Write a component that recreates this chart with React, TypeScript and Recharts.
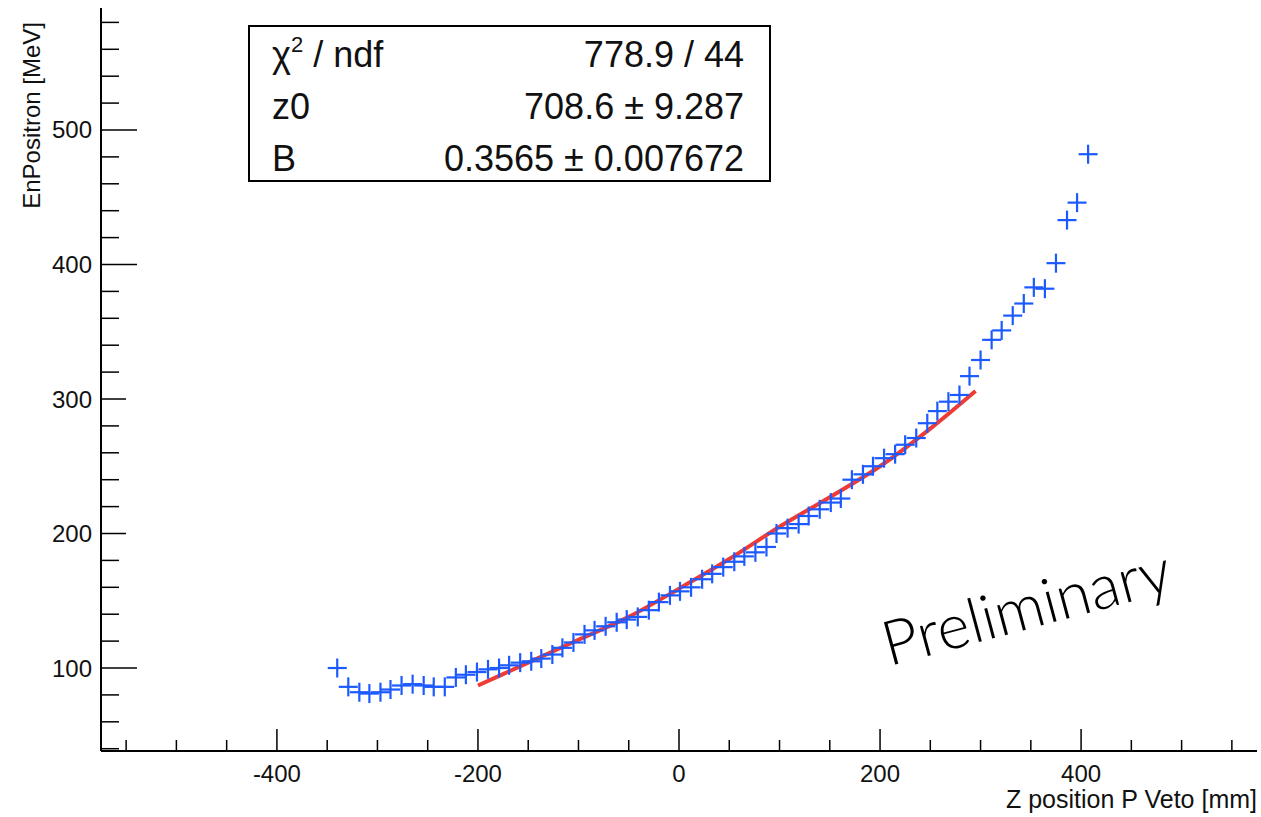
import { ComposedChart, Scatter, Line, XAxis, YAxis } from "recharts";

// measured points (z in mm, energy in MeV)
const zPos = [
  -340, -329, -318, -308, -297, -287, -276, -265, -254, -244, -233, -222, -212, -201, -190, -179,
  -169, -158, -147, -137, -126, -116, -105, -94, -84, -73, -62, -52, -41, -30, -20, -9,
  1, 12, 23, 33, 44, 55, 65, 76, 87, 97, 108, 119, 129, 140, 151, 161,
  172, 183, 193, 204, 215, 225, 236, 247, 257, 268, 279, 289, 300, 311, 321, 332,
  343, 353, 364, 375, 386, 396, 407,
];
const energy = [
  100, 86, 82, 81, 82, 84, 87, 88, 87, 86, 86, 93, 95, 97, 99, 100,
  102, 104, 105, 107, 110, 115, 119, 125, 128, 131, 134, 136, 138, 143, 149, 154,
  157, 160, 166, 170, 175, 179, 183, 186, 190, 200, 204, 207, 213, 218, 223, 226,
  240, 244, 250, 256, 259, 266, 271, 282, 291, 298, 303, 317, 329, 344, 351, 362,
  371, 383, 382, 401, 433, 446, 482,
];

// fit curve
const fitZ = [-200, -150, -100, -50, 0, 50, 100, 150, 200, 250, 295];
const fitE = [87, 104, 121, 138, 159, 181, 205, 227, 250, 278, 306];

const xTicks = [-550, -500, -450, -400, -350, -300, -250, -200, -150, -100, -50, 0, 50, 100, 150, 200, 250, 300, 350, 400, 450, 500, 550];
const xMajor = [-400, -200, 0, 200, 400];
const yTicks = [40, 60, 80, 100, 120, 140, 160, 180, 200, 220, 240, 260, 280, 300, 320, 340, 360, 380, 400, 420, 440, 460, 480, 500, 520, 540, 560, 580];
const yMajor = [100, 200, 300, 400, 500];
const yShortMajor = [200, 300];

const statRows = [
  { name: "z0", value: "708.6 \u00b1 9.287" },
  { name: "B", value: "0.3565 \u00b1 0.007672" },
];

const FONT = "'Liberation Sans', Arial, Helvetica, sans-serif";
const BLUE = "#1c5aff";
const RED = "#ee3b36";

const points = zPos.map((z, i) => ({ z, e: energy[i] }));
const fit = fitZ.map((z, i) => ({ z, e: fitE[i] }));

function XTick(props: any) {
  const { x, y, payload } = props;
  const major = xMajor.includes(payload.value);
  return (
    <g>
      <line x1={x} x2={x} y1={y} y2={y - (major ? 22 : 11)} stroke="#000" strokeWidth={1.5} />
      {major && (
        <text x={x} y={y + 31} textAnchor="middle" fontSize={24} fontFamily={FONT} fill="#111">
          {String(payload.value)}
        </text>
      )}
    </g>
  );
}

function YTick(props: any) {
  const { x, y, payload } = props;
  const major = yMajor.includes(payload.value);
  const len = major ? (yShortMajor.includes(payload.value) ? 25 : 36) : 18;
  return (
    <g>
      <line x1={x} x2={x + len} y1={y} y2={y} stroke="#000" strokeWidth={1.5} />
      {major && (
        <text x={x - 9} y={y + 8.5} textAnchor="end" fontSize={24} fontFamily={FONT} fill="#111">
          {String(payload.value)}
        </text>
      )}
    </g>
  );
}

function Cross(props: any) {
  const { cx, cy } = props;
  if (cx == null || cy == null) return null;
  return (
    <g>
      <line x1={cx - 9.5} x2={cx + 9.5} y1={cy} y2={cy} stroke={BLUE} strokeWidth={2.2} />
      <line x1={cx} x2={cx} y1={cy - 9.5} y2={cy + 9.5} stroke={BLUE} strokeWidth={2.2} />
    </g>
  );
}

export default function App() {
  return (
    <div style={{ position: "absolute", left: 0, top: 0, width: 1261, height: 817, background: "#fff" }}>
      <ComposedChart width={1261} height={817} margin={{ top: 8, right: 4, bottom: 0, left: 0 }}>
        <XAxis
          dataKey="z"
          type="number"
          domain={[-575, 575]}
          allowDataOverflow
          ticks={xTicks}
          interval={0}
          tickSize={0}
          tickMargin={0}
          height={66}
          tickLine={false}
          tick={<XTick />}
          axisLine={{ stroke: "#000", strokeWidth: 2 }}
        />
        <XAxis
          xAxisId="top"
          orientation="top"
          type="number"
          domain={[-575, 575]}
          height={0}
          tick={false}
          tickLine={false}
          axisLine={{ stroke: "#000", strokeWidth: 2 }}
        />
        <YAxis
          dataKey="e"
          type="number"
          domain={[38.3, 590.7]}
          allowDataOverflow
          ticks={yTicks}
          interval={0}
          tickSize={0}
          tickMargin={0}
          width={101}
          tickLine={false}
          tick={<YTick />}
          axisLine={{ stroke: "#000", strokeWidth: 2 }}
        />
        <YAxis
          yAxisId="right"
          orientation="right"
          type="number"
          domain={[38.3, 590.7]}
          width={0}
          tick={false}
          tickLine={false}
          axisLine={{ stroke: "#000", strokeWidth: 2 }}
        />
        <Scatter data={points} dataKey="e" shape={<Cross />} isAnimationActive={false} />
        <Line
          data={fit}
          dataKey="e"
          type="monotone"
          stroke={RED}
          strokeWidth={4}
          dot={false}
          activeDot={false}
          isAnimationActive={false}
        />
      </ComposedChart>
      <svg width={1261} height={817} style={{ position: "absolute", left: 0, top: 0, pointerEvents: "none" }}>
        <rect x={249} y={26} width={521} height={155} fill="#fff" stroke="#000" strokeWidth={2} />
        <text x={272} y={67} fontSize={36} fontFamily={FONT} fill="#111">
          {"\u03c7"}
          <tspan fontSize={22} dy={-15}>2</tspan>
          <tspan dy={15}>{" / ndf"}</tspan>
        </text>
        <text x={744} y={67} fontSize={36} fontFamily={FONT} fill="#111" textAnchor="end">
          778.9 / 44
        </text>
        {statRows.map((r, i) => (
          <g key={r.name}>
            <text x={272} y={119 + i * 52} fontSize={36} fontFamily={FONT} fill="#111">
              {r.name}
            </text>
            <text x={744} y={119 + i * 52} fontSize={36} fontFamily={FONT} fill="#111" textAnchor="end">
              {r.value}
            </text>
          </g>
        ))}
        <text
          x={22}
          y={22}
          transform="rotate(-90 22 22)"
          textAnchor="end"
          dominantBaseline="hanging"
          fontSize={24}
          fontFamily={FONT}
          fill="#111"
        >
          EnPositron [MeV]
        </text>
        <text x={1257} y={808} textAnchor="end" fontSize={25} fontFamily={FONT} fill="#111">
          Z position P Veto [mm]
        </text>
        <text
          x={1032}
          y={628}
          textAnchor="middle"
          fontSize={62}
          fontWeight={300}
          fontFamily="Lato, Roboto, 'Open Sans', sans-serif"
          fill="#000"
          transform="rotate(-15 1032 628)"
        >
          Preliminary
        </text>
      </svg>
    </div>
  );
}
